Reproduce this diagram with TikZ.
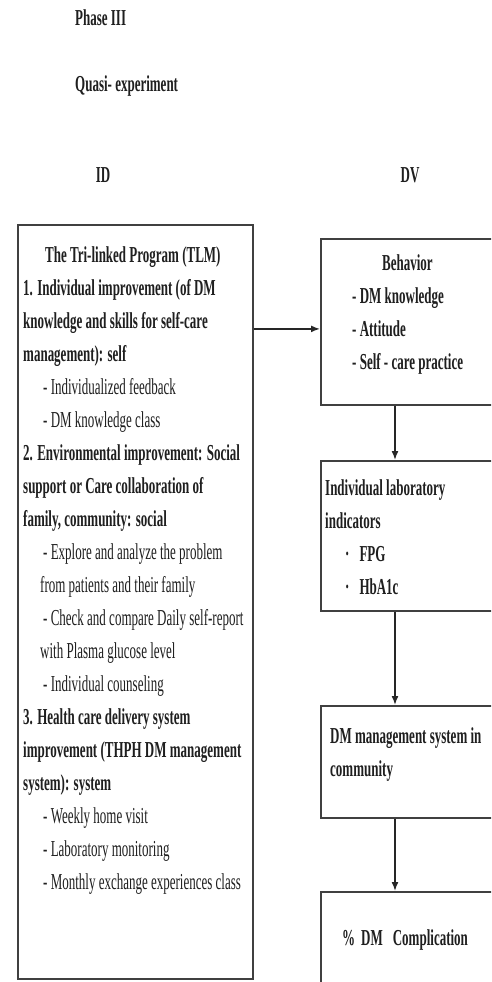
\documentclass[tikz,border=0pt]{standalone}
\usepackage{fontspec}
\newfontfamily\tlmfont[FakeStretch=0.57]{Liberation Serif}
\usetikzlibrary{positioning, arrows.meta}

\begin{document}
\begin{tikzpicture}[x=1pt,y=-1pt,
    box/.style={draw=black!75, line width=1.8pt, inner sep=0pt, anchor=north west},
    txt/.style={inner sep=0pt, anchor=north west, align=left, text=black!88,
      font=\tlmfont\fontsize{22.8}{33}\selectfont\bfseries},
    lbl/.style={inner sep=0pt, anchor=base west, text=black!88,
      font=\tlmfont\fontsize{22.8}{33}\selectfont\bfseries},
    flow/.style={-{Latex[length=9pt,width=7pt]}, line width=1.6pt, black!85}]
    \useasboundingbox (0,0) rectangle (491,982);
    \clip (0,0) rectangle (491,982);
    \fill[white] (0,0) rectangle (491,982);

    % Headings
    \node[lbl] (phase) at (75,26) {Phase III};
    \node[lbl] (design) at (75,91) {Quasi- experiment};
    \node[lbl, anchor=base] (id) at (103,182) {ID};
    \node[lbl, anchor=base] (dv) at (410,182) {DV};

    % Boxes
    \node[box, minimum width=235pt, minimum height=754pt] (tlm) at (17,224) {};
    \node[box, minimum width=180pt, minimum height=166pt] (behav) at (320,238) {};
    \node[box, minimum width=180pt, minimum height=150pt] (lab) at (320,460) {};
    \node[box, minimum width=180pt, minimum height=112pt] (mgmt) at (320,705) {};
    \node[box, minimum width=180pt, minimum height=130pt] (compl) at (320,891) {};

    % Texts in the boxes
    \node[txt] (tlmtext) at (23,239) {\strut\hspace*{22pt}The Tri-linked Program (TLM)\\
      1. Individual improvement (of DM\\
      knowledge and skills for self-care\\
      management): self\\
      \mdseries\hspace*{20pt}- Individualized feedback\\
      \mdseries\hspace*{20pt}- DM knowledge class\\
      2. Environmental improvement: Social\\
      support or Care collaboration of\\
      family, community: social\\
      \mdseries\hspace*{20pt}- Explore and analyze the problem\\
      \mdseries\hspace*{17pt}from patients and their family\\
      \mdseries\hspace*{20pt}- Check and compare Daily self-report\\
      \mdseries\hspace*{17pt}with Plasma glucose level\\
      \mdseries\hspace*{20pt}- Individual counseling\\
      3. Health care delivery system\\
      improvement (THPH DM management\\
      system): system\\
      \mdseries\hspace*{20pt}- Weekly home visit\\
      \mdseries\hspace*{20pt}- Laboratory monitoring\\
      \mdseries\hspace*{20pt}- Monthly exchange experiences class};
    \node[txt] (behavtext) at (352,247) {\strut\hspace*{30pt}Behavior\\
      - DM knowledge\\
      - Attitude\\
      - Self - care practice};
    \node[txt] (labtext) at (325,472) {\strut Individual laboratory\\
      indicators\\
      \hspace*{20pt}·\hspace*{10pt}FPG\\
      \hspace*{20pt}·\hspace*{10pt}HbA1c};
    \node[txt] (mgmttext) at (330,720) {\strut DM management system in\\
      community};
    \node[lbl] (compltext) at (342,945) {\%\hspace{6pt}DM\hspace{10pt}Complication};

    % Arrows
    \coordinate (spine) at (395,0);
    \draw[flow] ([yshift=-7pt]tlm.east |- behav.west) -- ([yshift=-7pt]behav.west);
    \draw[flow] (behav.south -| spine) -- (lab.north -| spine);
    \draw[flow] (lab.south -| spine) -- (mgmt.north -| spine);
    \draw[flow] (mgmt.south -| spine) -- (compl.north -| spine);
\end{tikzpicture}
\end{document}
